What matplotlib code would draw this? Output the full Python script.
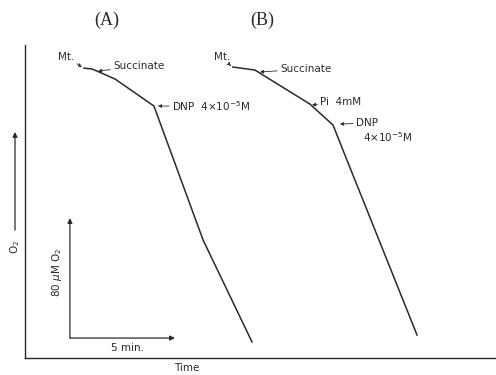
import numpy as np
import matplotlib
matplotlib.use("Agg")
import matplotlib.pyplot as plt

# time in minutes, O2 in uM (relative to the trace baseline)
time_a = [2.81, 3.19, 3.43, 4.29, 6.14, 8.48, 10.81]
o2_a = [193.3, 192.7, 191.3, 186.0, 168.0, 78.7, 10.7]

time_b = [9.90, 10.95, 13.57, 14.67, 15.14, 18.67]
o2_b = [194.0, 192.0, 169.3, 155.3, 138.7, 15.3]

ink = "#2a2a2a"
plt.rcParams['font.family'] = ['DejaVu Sans']
lab = dict(fontsize=7.5, color=ink)

fig = plt.figure(figsize=(4.96, 3.75), dpi=100)
ax = fig.add_axes([25/496, 17/375, 471/496, 313/375])
ax.set_xlim(0, 22.43)
ax.set_ylim(0, 208.7)
for s in ['top', 'right']:
    ax.spines[s].set_visible(False)
for s in ['left', 'bottom']:
    ax.spines[s].set_color(ink)
    ax.spines[s].set_linewidth(1.0)
ax.set_xticks([])
ax.set_yticks([])

ax.plot(time_a, o2_a, color=ink, lw=1.1)
ax.plot(time_b, o2_b, color=ink, lw=1.1)

arr = dict(arrowstyle='-|>', color=ink, lw=0.6, mutation_scale=5, shrinkA=0, shrinkB=0)
dot = dict(arr, linestyle=(0, (1.5, 1.5)))

# trace A labels
ax.annotate("Mt.", xy=(2.71, 194), xytext=(1.95, 201), ha='center', va='center',
            arrowprops=dot, annotation_clip=False, **lab)
ax.annotate("Succinate", xy=(3.48, 191.3), xytext=(4.2, 194.5), ha='left', va='center',
            arrowprops=arr, **lab)
ax.annotate("DNP  4×10$^{-5}$M", xy=(6.33, 168), xytext=(7.0, 168), ha='left', va='center',
            arrowprops=arr, **lab)

# trace B labels
ax.annotate("Mt.", xy=(9.81, 194.7), xytext=(9.38, 200.5), ha='center', va='center',
            arrowprops=dot, **lab)
ax.annotate("Succinate", xy=(11.19, 190.7), xytext=(12.14, 192.7), ha='left', va='center',
            arrowprops=arr, **lab)
ax.annotate("Pi  4mM", xy=(13.67, 168.7), xytext=(14.05, 170.7), ha='left', va='center',
            arrowprops=arr, **lab)
ax.annotate("DNP", xy=(15.0, 156), xytext=(15.76, 156.7), ha='left', va='center',
            arrowprops=arr, **lab)
ax.text(16.1, 147.3, "4×10$^{-5}$M", ha='left', va='center', **lab)

# scale bar
sb = dict(arrowstyle='-|>', color=ink, lw=0.9, mutation_scale=7, shrinkA=0, shrinkB=0)
ax.annotate("", xy=(2.14, 93.3), xytext=(2.14, 13.3), arrowprops=sb)
ax.annotate("", xy=(7.14, 13.3), xytext=(2.14, 13.3), arrowprops=sb)
ax.text(4.86, 6.7, "5 min.", ha='center', va='center', **lab)
ax.text(1.52, 57.3, "80 $\\mu$M O$_2$", ha='center', va='center', rotation=90, **lab)

# axis labels
ax.annotate("", xy=(-0.476, 150.7), xytext=(-0.476, 85.3), arrowprops=sb, annotation_clip=False)
ax.text(-0.476, 74, "O$_2$", ha='center', va='center', rotation=90, clip_on=False, **lab)
ax.text(7.71, -7.0, "Time", ha='center', va='center', clip_on=False, **lab)

ax.text(3.9, 225.3, "(A)", ha='center', va='center', fontsize=13, family='Liberation Serif', color=ink, clip_on=False)
ax.text(11.29, 225.3, "(B)", ha='center', va='center', fontsize=13, family='Liberation Serif', color=ink, clip_on=False)

fig.savefig("out.png", dpi=100)
